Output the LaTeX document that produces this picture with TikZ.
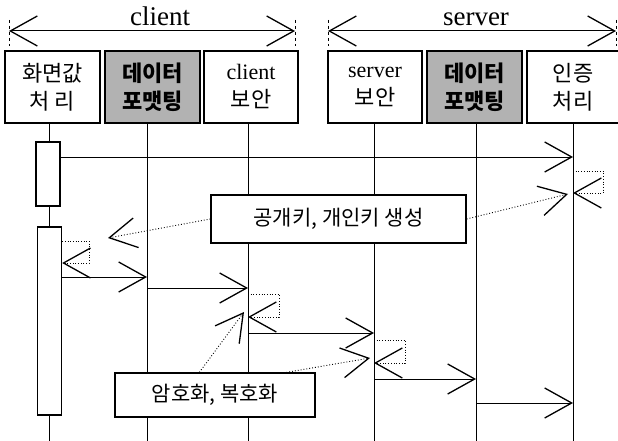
\documentclass[tikz,border=0pt]{standalone}
\usepackage{fontspec}
\setmainfont{Liberation Serif}
\newfontfamily\kr{Noto Sans CJK KR}
\usetikzlibrary{arrows.meta}

\tikzset{bigtip/.tip={Straight Barb[length=27pt, width=30pt, line width=1.3pt]}}

\begin{document}
\begin{tikzpicture}[x=1pt, y=-1pt,
    obj/.style={draw, line width=1.3pt, minimum width=95pt, minimum height=72pt, inner sep=0pt, align=center, font=\fontsize{22}{28}\selectfont\kr},
    fmt/.style={obj, fill=black!30, font=\fontsize{22}{28}\selectfont\kr\bfseries},
    act/.style={draw, line width=1.3pt, fill=white, minimum width=24pt, inner sep=0pt},
    memo/.style={draw, line width=1.3pt, fill=white, inner sep=0pt, font=\fontsize{21}{25}\selectfont\kr},
    life/.style={line width=0.7pt},
    msg/.style={line width=1pt, -bigtip},
    self/.style={dotted, line width=0.7pt, -bigtip},
    hint/.style={dotted, line width=0.9pt, -bigtip},
    span/.style={line width=1pt, bigtip-bigtip},
    tick/.style={dashed, line width=0.4pt}]
    \useasboundingbox (0,0) rectangle (618,441);

    % client / server ranges
    \coordinate (cl) at (9,31);
    \coordinate (cr) at (295,31);
    \coordinate (sl) at (328,31);
    \coordinate (sr) at (616,31);
    \draw[span] (cl) -- (cr);
    \draw[span] (sl) -- (sr);
    \foreach \x in {9,295,328,616}
        \draw[tick] (\x,20) -- (\x,46);
    \node[anchor=base, font=\fontsize{27}{30}\selectfont] (client) at (160,26) {client};
    \node[anchor=base, font=\fontsize{27}{30}\selectfont] (server) at (476,26) {server};

    % lifelines
    \foreach \n/\x in {ui/49, fmtc/147, secc/248, secs/374, fmts/476, auth/573}
        \draw[life] (\x,123) coordinate (\n-t) -- (\x,441) coordinate (\n-b);

    % objects
    \node[obj] (ui) at (52.5,87) {화면값\\처 리};
    \node[fmt] (fmtc) at (152.5,87) {데이터\\포맷팅};
    \node[obj, minimum width=94pt] (secc) at (251,87) {\rmfamily client\\보안};
    \node[obj, minimum width=94pt] (secs) at (375,87) {\rmfamily server\\보안};
    \node[fmt] (fmts) at (474.5,87) {데이터\\포맷팅};
    \node[obj, minimum width=92pt] (auth) at (573,87) {인증\\처리};

    % activations
    \node[act, minimum height=64pt] (act1) at (48,174) {};
    \node[act, minimum height=188pt] (act2) at (49.5,321) {};

    % notes
    \node[memo, minimum width=255pt, minimum height=48pt] (keygen) at (338.5,219) {공개키, 개인키 생성};
    \node[memo, minimum width=200pt, minimum height=44pt] (crypt) at (215,395) {암호화, 복호화};
    \coordinate (keyL) at (108,238);
    \coordinate (keyR) at (568,194);
    \coordinate (cryL) at (244,312);
    \coordinate (cryR) at (370,358);
    \draw[hint] (keygen.west) -- (keyL);
    \draw[hint] (keygen.east) -- (keyR);
    \draw[hint] ([xshift=85pt]crypt.north west) -- (cryL);
    \draw[hint] ([xshift=172pt]crypt.north west) -- (cryR);

    % messages
    \draw[msg] (act1.east |- 0,157) -- (auth-t |- 0,157);
    \draw[self] (auth-t |- 0,171) -- ++(30,0) |- (auth-t |- 0,193);
    \draw[self] (act2.east |- 0,241) -- ++(27,0) |- (act2.east |- 0,263);
    \draw[msg] (act2.east |- 0,277) -- (fmtc-t |- 0,277);
    \draw[msg] (fmtc-t |- 0,288) -- (secc-t |- 0,288);
    \draw[self] (secc-t |- 0,294) -- ++(31,0) |- (secc-t |- 0,317);
    \draw[msg] (secc-t |- 0,333) -- (secs-t |- 0,333);
    \draw[self] (secs-t |- 0,340) -- ++(31,0) |- (secs-t |- 0,363);
    \draw[msg] (secs-t |- 0,379) -- (fmts-t |- 0,379);
    \draw[msg] (fmts-t |- 0,403) -- (auth-t |- 0,403);
\end{tikzpicture}
\end{document}
